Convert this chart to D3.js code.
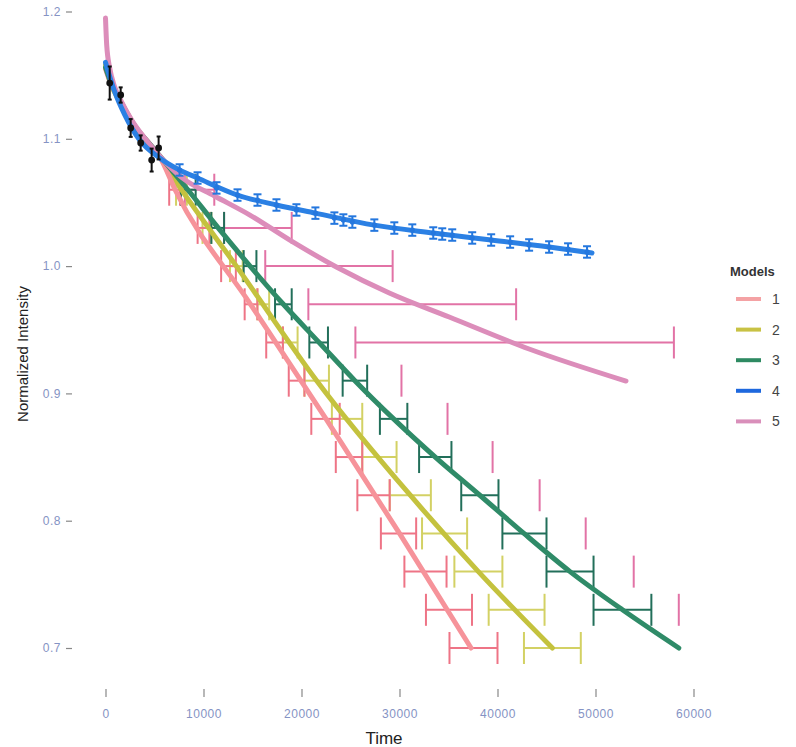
<!DOCTYPE html>
<html><head><meta charset="utf-8">
<script src="https://cdn.jsdelivr.net/npm/d3@7"></script>
<style>body{margin:0;background:#fff}svg{display:block}</style>
</head><body>
<script>
// ---- data ----
const models = ["1","2","3","4","5"];
const levels = [0.70,0.73,0.76,0.79,0.82,0.85,0.88,0.91,0.94,0.97,1.00,1.03,1.06];
const m1Lo = [35100,32700,30500,28100,25700,23500,21000,18700,16400,14200,11800,9400,6500];
const m1Hi = [40000,37400,34800,31700,29000,26200,23900,20300,18100,15500,13300,10600,7600];
const m2Lo = [42700,39100,35600,32300,29000,26200,23100,20300,18100,15500,12700,9900,7200];
const m2Hi = [48500,44800,40500,36900,33200,29700,26200,22800,19600,16700,14000,10800,8300];
const m3Lo = [null,49800,45000,40500,36300,32000,28000,24200,20800,17300,14100,10800,7700];
const m3Hi = [null,55700,49800,45000,40100,35300,30800,26700,22700,19000,15400,12100,9200];
const m5Lo = [null,58500,53900,49000,44300,39500,34900,30200,25500,20700,16300,12100,8100];
const m5Hi = [null,null,null,null,null,null,null,null,58000,41900,29300,19000,11100];

const m1T = [0,450,1500,3000,4500,5600,7100,14800,22500,30000,37300];
const m1V = [1.155,1.145,1.13,1.11,1.096,1.085,1.06,0.97,0.88,0.79,0.70];
const m2T = [0,500,1500,3000,4500,5600,7750,13350,21550,31100,38050,45600];
const m2V = [1.158,1.144,1.129,1.109,1.095,1.085,1.06,1.00,0.91,0.82,0.76,0.70];
const m3T = [0,500,1500,3000,4500,5600,8400,11500,14750,18150,21800,25450,29400,33650,38200,42700,47400,52750,58500];
const m3V = [1.156,1.145,1.13,1.11,1.096,1.086,1.06,1.03,1.00,0.97,0.94,0.91,0.88,0.85,0.82,0.79,0.76,0.73,0.70];
const m4T = [0,224,937,1956,3485,5523,7561,9395,13471,17445,21420,27432,33444,39354,45264,49645];
const m4V = [1.16,1.154,1.137,1.119,1.099,1.085,1.0755,1.0692,1.0558,1.048,1.0416,1.0322,1.026,1.0205,1.015,1.0103];
const m5T = [0,122,428,937,1651,2670,3995,5523,7867,11128,14694,18771,23560,28960,35074,43226,53110];
const m5V = [1.1949,1.1737,1.1556,1.1407,1.1289,1.1148,1.1006,1.0865,1.0691,1.0551,1.0403,1.0206,0.9993,0.9789,0.96,0.9349,0.9097];

// observations of model 4 (blue points with vertical error bars)
const bT = [7561,9395,11332,13471,15509,17445,19483,21420,23356,24273,25190,27432,29470,31304,33444,34361,35380,37418,39354,41290,43226,45264,47200,49136];
const bV = [1.0755,1.0692,1.0614,1.0558,1.0519,1.048,1.0441,1.0416,1.0377,1.0362,1.0346,1.0322,1.0299,1.0283,1.026,1.0252,1.0244,1.0221,1.0205,1.0189,1.0166,1.015,1.0134,1.0111];
const bE = 0.0045;
// black measured points
const kT = [430,1550,2570,3590,4710,5420];
const kV = [1.1438,1.1344,1.1085,1.0967,1.0833,1.0928];
const kE = [0.013,0.006,0.007,0.006,0.009,0.009];

const xTicks = [0,10000,20000,30000,40000,50000,60000];
const yTicks = [0.7,0.8,0.9,1.0,1.1,1.2];

// ---- styles ----
const lineCol = {"1":"#F6939A","2":"#C4C23E","3":"#2F8B68","4":"#2B80E4","5":"#DC8DBA"};
const barCol  = {"1":"#EE7486","2":"#D3D164","3":"#226F5A","5":"#E273A6"};
const keyCol  = {"1":"#F4A2A4","2":"#C8C244","3":"#2E8A62","4":"#1E68DE","5":"#D98FBA"};

const W=796,H=747;
const svg=d3.select("body").append("svg").attr("width",W).attr("height",H)
  .style("font-family","'Liberation Sans', Arial, sans-serif");
const x=d3.scaleLinear().domain([0,60000]).range([105.5,693.5]);
const y=d3.scaleLinear().domain([0.7,1.2]).range([648,11.5]);

svg.append("defs").append("clipPath").attr("id","clip")
  .append("rect").attr("x",86).attr("y",0).attr("width",622).attr("height",668);
const plot=svg.append("g").attr("clip-path","url(#clip)");

// axes
const xAx=svg.append("g").attr("transform","translate(0,689)")
  .call(d3.axisBottom(x).tickValues(xTicks).tickFormat(d3.format("d")).tickSize(8).tickPadding(12));
const yAx=svg.append("g").attr("transform","translate(72,0)")
  .call(d3.axisLeft(y).tickValues(yTicks).tickFormat(d3.format(".1f")).tickSize(6).tickPadding(5));
[xAx,yAx].forEach(a=>{
  a.select(".domain").remove();
  a.selectAll(".tick line").attr("stroke","#888").attr("stroke-width",1.2);
  a.selectAll(".tick text").attr("fill","#8593C4").style("font-size","12px").style("letter-spacing","0.5px");
});
svg.append("text").attr("x",384).attr("y",744).attr("text-anchor","middle")
  .style("font-size","17px").attr("fill","#222").text("Time");
svg.append("text").attr("transform","translate(28,354) rotate(-90)").attr("text-anchor","middle")
  .style("font-size","15px").attr("fill","#222").text("Normalized Intensity");

// horizontal error bars
const capH=16;
function hbars(id,lo,hi){
  const g=plot.append("g").attr("stroke",barCol[id]).attr("stroke-width",2).attr("fill","none");
  levels.forEach((lv,i)=>{
    const yy=y(lv);
    if(lo[i]!=null){
      g.append("line").attr("x1",x(lo[i])).attr("x2",x(lo[i])).attr("y1",yy-capH).attr("y2",yy+capH);
    }
    if(hi[i]!=null){
      g.append("line").attr("x1",x(hi[i])).attr("x2",x(hi[i])).attr("y1",yy-capH).attr("y2",yy+capH);
      g.append("line").attr("x1",x(lo[i])).attr("x2",x(hi[i])).attr("y1",yy).attr("y2",yy);
    }
  });
}
hbars("5",m5Lo,m5Hi);
hbars("2",m2Lo,m2Hi);
hbars("1",m1Lo,m1Hi);
hbars("3",m3Lo,m3Hi);

// lines
const line=d3.line().x(d=>x(d[0])).y(d=>y(d[1])).curve(d3.curveMonotoneX);
function drawLine(id,T,V){
  plot.append("path").datum(T.map((t,i)=>[t,V[i]]))
    .attr("d",line).attr("fill","none").attr("stroke",lineCol[id])
    .attr("stroke-width",5).attr("stroke-linecap","round").attr("stroke-linejoin","round");
}
drawLine("2",m2T,m2V);
drawLine("1",m1T,m1V);
drawLine("3",m3T,m3V);
drawLine("5",m5T,m5V);
drawLine("4",m4T,m4V);

// blue observations
const bg=plot.append("g").attr("stroke","#2477DE").attr("stroke-width",2);
bT.forEach((t,i)=>{
  const cx=x(t),y1=y(bV[i]+bE),y2=y(bV[i]-bE);
  bg.append("line").attr("x1",cx).attr("x2",cx).attr("y1",y1).attr("y2",y2);
  bg.append("line").attr("x1",cx-4).attr("x2",cx+4).attr("y1",y1).attr("y2",y1);
  bg.append("line").attr("x1",cx-4).attr("x2",cx+4).attr("y1",y2).attr("y2",y2);
  plot.append("circle").attr("cx",cx).attr("cy",y(bV[i])).attr("r",2.6).attr("fill","#2477DE");
});
// black measured points
const kg=plot.append("g").attr("stroke","#111").attr("stroke-width",2);
kT.forEach((t,i)=>{
  const cx=x(t),y1=y(kV[i]+kE[i]),y2=y(kV[i]-kE[i]);
  kg.append("line").attr("x1",cx).attr("x2",cx).attr("y1",y1).attr("y2",y2);
  kg.append("line").attr("x1",cx-2).attr("x2",cx+2).attr("y1",y1).attr("y2",y1);
  kg.append("line").attr("x1",cx-2).attr("x2",cx+2).attr("y1",y2).attr("y2",y2);
  plot.append("circle").attr("cx",cx).attr("cy",y(kV[i])).attr("r",3.4).attr("fill","#111");
});

// legend
const lg=svg.append("g").attr("transform","translate(730,0)");
lg.append("text").attr("x",0).attr("y",276).style("font-size","13px").style("font-weight","bold")
  .attr("fill","#333").text("Models");
models.forEach((m,i)=>{
  const yy=299+i*30.6;
  lg.append("line").attr("x1",6).attr("x2",31).attr("y1",yy).attr("y2",yy)
    .attr("stroke",keyCol[m]).attr("stroke-width",4);
  lg.append("text").attr("x",42).attr("y",yy+5).style("font-size","14px").attr("fill","#444").text(m);
});
</script>
</body></html>
